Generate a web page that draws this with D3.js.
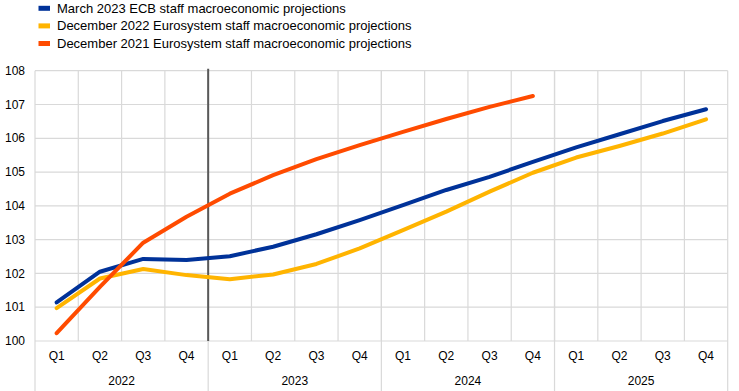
<!DOCTYPE html>
<html><head><meta charset="utf-8">
<script src="https://cdn.jsdelivr.net/npm/d3@7"></script>
<style>body{margin:0;background:#fff}svg{display:block}text{font-family:"Liberation Sans",Arial,sans-serif;fill:#000}</style>
</head><body><svg id="c" width="739" height="391"></svg>
<script>
const years = ["2022","2023","2024","2025"];
const quarters = ["Q1","Q2","Q3","Q4"];
const yTicks = [100,101,102,103,104,105,106,107,108];
const seriesNames = ["March 2023 ECB staff macroeconomic projections","December 2022 Eurosystem staff macroeconomic projections","December 2021 Eurosystem staff macroeconomic projections"];
const march2023 = [101.14,102.05,102.43,102.40,102.51,102.79,103.16,103.58,104.02,104.47,104.86,105.30,105.73,106.12,106.51,106.86];
const dec2022 = [100.97,101.85,102.13,101.95,101.83,101.97,102.28,102.74,103.28,103.83,104.42,104.98,105.43,105.77,106.14,106.56];
const dec2021 = [100.23,101.60,102.91,103.68,104.36,104.91,105.38,105.80,106.19,106.57,106.93,107.25];
const colors = ["#003299","#ffb400","#ff4b00"];

const periods = [];
years.forEach(y=>quarters.forEach(q=>periods.push(y+" "+q)));
const svg = d3.select("#c");
const L=35, R=727.7, T=70.7, B=341;
const x = d3.scaleBand().domain(periods).range([L,R]);
const y = d3.scaleLinear().domain([100,108]).range([B,T]);
const grid = "#d9d9d9";

// horizontal grid
svg.append("g").selectAll("line").data(yTicks).join("line")
  .attr("x1",L).attr("x2",R).attr("y1",d=>y(d)).attr("y2",d=>y(d))
  .attr("stroke",grid).attr("stroke-width",1.2);
// quarter verticals
svg.append("g").selectAll("line").data(periods.slice(1)).join("line")
  .attr("x1",d=>x(d)).attr("x2",d=>x(d)).attr("y1",T).attr("y2",B)
  .attr("stroke",grid).attr("stroke-width",1.2);
// year separators extending below
const yearEdges = [L].concat(years.map(yy=>x(yy+" Q4")+x.bandwidth()));
svg.append("g").selectAll("line").data(yearEdges).join("line")
  .attr("x1",d=>d).attr("x2",d=>d).attr("y1",T).attr("y2",391)
  .attr("stroke",grid).attr("stroke-width",1.2);

// y labels
svg.append("g").selectAll("text").data(yTicks).join("text")
  .attr("x",25).attr("y",d=>y(d)).attr("dy","0.35em").attr("text-anchor","end")
  .attr("font-size",12).text(d=>d);
// quarter labels
svg.append("g").selectAll("text").data(periods).join("text")
  .attr("x",d=>x(d)+x.bandwidth()/2).attr("y",356).attr("dy","0.35em")
  .attr("text-anchor","middle").attr("font-size",12).text(d=>d.split(" ")[1]);
// year labels
svg.append("g").selectAll("text").data(years).join("text")
  .attr("x",d=>(x(d+" Q1")+x(d+" Q4")+x.bandwidth())/2).attr("y",381).attr("dy","0.35em")
  .attr("text-anchor","middle").attr("font-size",12).text(d=>d);

// vertical marker line
const mx = x("2023 Q1");
svg.append("line").attr("x1",mx).attr("x2",mx).attr("y1",T-2).attr("y2",B)
  .attr("stroke","#595959").attr("stroke-width",2);

// lines
const line = d3.line().x((d,i)=>x(periods[i])+x.bandwidth()/2).y(d=>y(d));
const data = [march2023,dec2022,dec2021];
[1,0,2].forEach(i=>{
  svg.append("path").attr("d",line(data[i])).attr("fill","none")
    .attr("stroke",colors[i]).attr("stroke-width",4).attr("stroke-linejoin","round").attr("stroke-linecap","round");
});

// legend
const lg = svg.append("g");
seriesNames.forEach((n,i)=>{
  const cy = 8.3 + i*17.6;
  lg.append("rect").attr("x",38.5).attr("y",cy-2.5).attr("width",11.5).attr("height",5).attr("fill",colors[i]);
  lg.append("text").attr("x",57).attr("y",cy).attr("dy","0.35em").attr("font-size",13).text(n);
});
</script></body></html>
